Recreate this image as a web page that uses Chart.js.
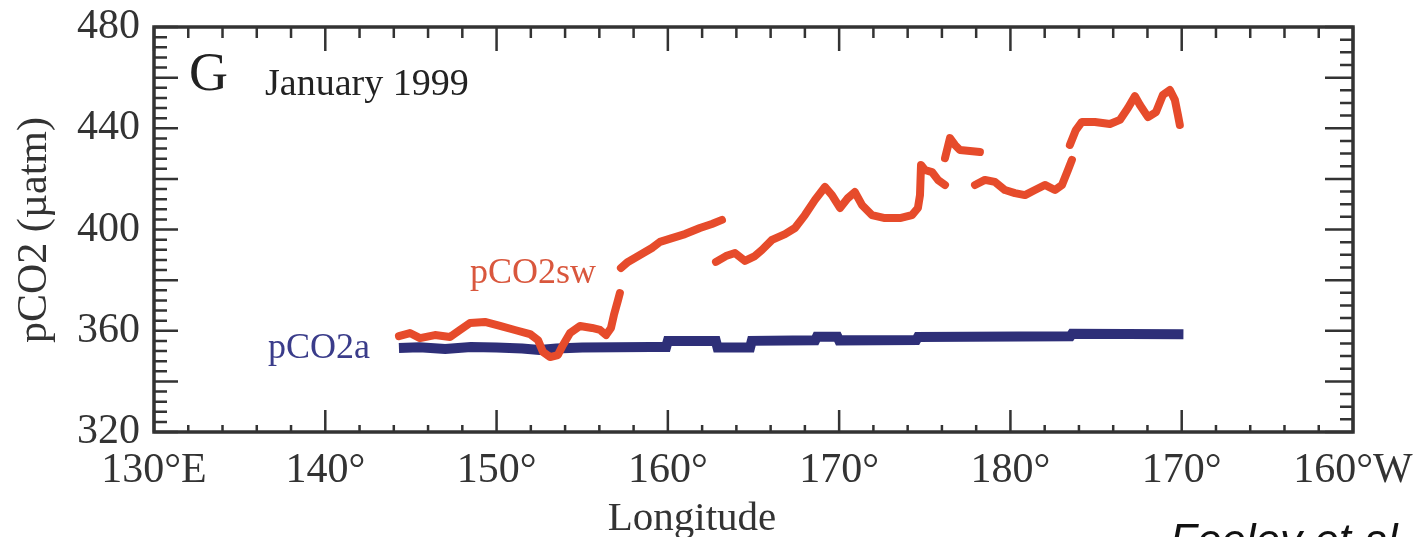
<!DOCTYPE html>
<html>
<head>
<meta charset="utf-8">
<script src="https://cdn.jsdelivr.net/npm/chart.js@4"></script>
<style>
  html, body { margin: 0; padding: 0; background: #ffffff; overflow: hidden; }
  #wrap { width: 1418px; height: 537px; position: relative; }
</style>
</head>
<body>
<div id="wrap"><canvas id="c" width="1418" height="537"></canvas></div>
<script>
// ---- Data ----
// Longitude in continuous degrees east (190 = 170°W, 200 = 160°W)
const xTickValues = [130, 140, 150, 160, 170, 180, 190, 200];
const xTickLabels = ['130°E', '140°', '150°', '160°', '170°', '180°', '170°', '160°W'];
const yTickValues = [320, 360, 400, 440, 480];

// pCO2sw (seawater) – null marks a gap in the underway record
const swLon = [144.30, 144.94, 145.53, 146.40, 147.28, 147.86, 148.45, 149.32, 150.20, 151.07,
  151.95, 152.42, 152.71, 153.12, 153.58, 153.88, 154.29, 154.87, 155.57, 156.04,
  156.39, 156.68, 156.85, 157.09, 157.20, 157.23,
  157.26, 157.67, 158.37, 159.07, 159.54, 160.24, 161.00, 161.87, 162.57, 163.16, 163.0,
  162.81, 163.39, 163.92, 164.50, 165.08, 165.49, 166.08, 166.84, 167.42, 168.00,
  168.59, 169.17, 169.58, 170.05, 170.51, 170.92, 171.33, 171.91, 172.67, 173.55,
  174.25, 174.60, 174.72, 174.78, 175.01, 175.42, 175.77, 176.18, 176.18,
  176.18, 176.47, 176.76, 177.05, 177.64, 178.22, 178.0,
  177.93, 178.51, 179.09, 179.68, 180.26, 180.85, 181.43, 182.01, 182.60, 183.01, 183.36, 183.59, 183.5,
  183.47, 183.82, 184.17, 184.93, 185.81, 186.39, 186.86, 187.27, 187.56, 188.03, 188.50, 188.90, 189.31, 189.60, 189.78, 189.89];
const swVal = [357.9, 359.1, 357.1, 358.3, 357.5, 360.3, 363.1, 363.5, 361.9, 360.3,
  358.7, 356.3, 351.6, 349.6, 350.4, 354.4, 359.1, 361.9, 361.1, 360.3,
  358.3, 361.1, 366.2, 372.1, 374.9, null,
  384.8, 387.2, 389.9, 392.7, 395.1, 396.6, 398.2, 400.6, 402.2, 403.8, null,
  387.2, 389.5, 390.7, 387.6, 389.5, 391.9, 395.9, 398.2, 400.6, 405.7,
  411.7, 416.8, 413.6, 408.5, 412.4, 414.8, 409.7, 405.7, 404.5, 404.5,
  405.7, 408.5, 413.6, 425.5, 423.5, 422.7, 419.6, 417.6, null,
  428.2, 436.1, 433.4, 431.4, 431.0, 430.6, null,
  417.6, 419.6, 418.8, 415.6, 414.4, 413.6, 415.6, 417.6, 415.6, 417.6, 423.5, 427.5, null,
  433.4, 439.3, 442.5, 442.5, 441.7, 443.3, 448.0, 452.7, 449.2, 444.4, 446.4, 453.1, 455.1, 451.2, 445.2, 441.3];

// pCO2a (atmosphere)
const aLon = [144.3, 145.5, 147.0, 148.5, 150.0, 151.5, 152.5, 153.5, 155.0, 157.0, 159.0, 159.9,
  160.0, 162.8, 162.9, 164.8, 164.9, 168.6, 168.7, 169.9, 170.0, 174.5, 174.6, 183.5, 183.6, 190.1];
const aVal = [353.2, 353.5, 352.8, 353.6, 353.4, 353.0, 352.4, 353.0, 353.4, 353.5, 353.6, 353.6,
  356.0, 356.0, 353.4, 353.4, 356.0, 356.2, 357.6, 357.6, 356.2, 356.3, 357.5, 357.8, 358.8, 358.6];

const seriesNames = ['pCO2sw', 'pCO2a'];

// ---- Styling ----
const SERIF = '"Liberation Serif", "Times New Roman", serif';
const AXIS_COLOR = '#333333';
const SW_COLOR = '#e64b2b';
const A_COLOR = '#2e2f78';

const decor = {
  id: 'decor',
  afterDraw(chart) {
    const { ctx, chartArea: { left, right, top, bottom }, scales: { x, y } } = chart;
    ctx.save();
    ctx.strokeStyle = AXIS_COLOR;
    ctx.lineWidth = 2.5;
    ctx.beginPath();
    // bottom & top ticks (inward)
    for (let v = 130; v <= 200; v += 2) {
      const px = x.getPixelForValue(v);
      const major = v % 10 === 0;
      ctx.moveTo(px, bottom); ctx.lineTo(px, bottom - (major ? 22 : 7));
      ctx.moveTo(px, top); ctx.lineTo(px, top + (major ? 24 : 11));
    }
    // left ticks
    for (let v = 320; v <= 480; v += 4) {
      const py = y.getPixelForValue(v);
      const major = v % 20 === 0;
      ctx.moveTo(left, py); ctx.lineTo(left + (major ? 24 : 13), py);
    }
    // right ticks
    for (let v = 320; v <= 480; v += 5) {
      const py = y.getPixelForValue(v);
      const major = v % 20 === 0;
      ctx.moveTo(right, py); ctx.lineTo(right - (major ? 28 : 13), py);
    }
    ctx.stroke();
    // frame
    ctx.lineWidth = 3.5;
    ctx.strokeRect(left, top, right - left, bottom - top);

    // texts
    ctx.fillStyle = '#222';
    ctx.textBaseline = 'alphabetic';
    ctx.textAlign = 'left';
    ctx.font = '54px ' + SERIF;
    ctx.fillText('G', 189, 90);
    ctx.font = '38px ' + SERIF;
    ctx.fillText('January 1999', 265, 95);

    ctx.font = '36px ' + SERIF;
    ctx.fillStyle = '#d9573d';
    ctx.fillText(seriesNames[0], 470, 283);
    ctx.fillStyle = '#3a3c8a';
    ctx.fillText(seriesNames[1], 268, 358);

    // axis titles
    ctx.fillStyle = '#333';
    ctx.font = '41px ' + SERIF;
    ctx.textAlign = 'center';
    ctx.fillText('Longitude', 692, 530);
    ctx.save();
    ctx.translate(46, 230);
    ctx.rotate(-Math.PI / 2);
    ctx.font = '42px ' + SERIF;
    ctx.fillText('pCO2 (µatm)', 0, 0);
    ctx.restore();

    // source note (cut off by the bottom edge)
    ctx.textAlign = 'left';
    ctx.fillStyle = '#111';
    ctx.font = 'italic 44px "Liberation Sans", Arial, sans-serif';
    ctx.fillText('Feeley et al.', 1170, 555);
    ctx.restore();
  }
};

const ctx = document.getElementById('c').getContext('2d');
new Chart(ctx, {
  type: 'scatter',
  data: {
    datasets: [
      {
        label: seriesNames[0],
        data: swLon.map((lon, i) => ({ x: lon, y: swVal[i] })),
        showLine: true,
        spanGaps: false,
        borderColor: SW_COLOR,
        backgroundColor: SW_COLOR,
        borderWidth: 8,
        borderJoinStyle: 'round',
        borderCapStyle: 'round',
        pointRadius: 0,
        tension: 0
      },
      {
        label: seriesNames[1],
        data: aLon.map((lon, i) => ({ x: lon, y: aVal[i] })),
        showLine: true,
        borderColor: A_COLOR,
        backgroundColor: A_COLOR,
        borderWidth: 10,
        borderJoinStyle: 'miter',
        borderCapStyle: 'butt',
        pointRadius: 0,
        tension: 0
      }
    ]
  },
  options: {
    responsive: false,
    animation: false,
    layout: { padding: { top: 27, right: 65, left: 0, bottom: 0 } },
    plugins: { legend: { display: false }, tooltip: { enabled: false }, title: { display: false } },
    scales: {
      x: {
        type: 'linear',
        min: 130, max: 200,
        afterBuildTicks: (s) => { s.ticks = xTickValues.map(v => ({ value: v })); },
        afterFit: (s) => { s.height = 105; s.paddingLeft = 0; s.paddingRight = 0; },
        grid: { display: false, drawTicks: false },
        border: { display: false },
        ticks: {
          padding: 14,
          maxRotation: 0,
          autoSkip: false,
          color: '#333',
          font: { family: SERIF, size: 42 },
          callback: (v) => { const i = xTickValues.indexOf(v); return i >= 0 ? xTickLabels[i] : ''; }
        }
      },
      y: {
        type: 'linear',
        min: 320, max: 480,
        afterBuildTicks: (s) => { s.ticks = yTickValues.map(v => ({ value: v })); },
        afterFit: (s) => { s.width = 154; s.paddingTop = 0; s.paddingBottom = 0; },
        grid: { display: false, drawTicks: false },
        border: { display: false },
        ticks: {
          padding: 14,
          color: '#333',
          font: { family: SERIF, size: 42 }
        }
      }
    }
  },
  plugins: [decor]
});
</script>
</body>
</html>
